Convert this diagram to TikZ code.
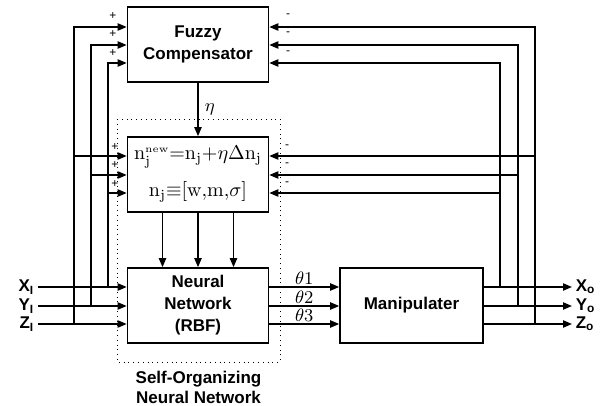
\documentclass[tikz,border=0pt]{standalone}
\usepackage{fontspec}
\setsansfont{Liberation Sans}
\usetikzlibrary{arrows.meta,positioning}

\begin{document}
\begin{tikzpicture}[
    x=0.5pt, y=-0.5pt,
    every node/.style={font=\sffamily\bfseries\fontsize{8.5}{11}\selectfont, align=center},
    blk/.style={rectangle, draw, line width=0.8pt, minimum width=70.5pt,
                minimum height=37.5pt, inner sep=0pt},
    ln/.style={line width=0.8pt},
    e/.style={ln, -{Triangle[length=4.5pt, width=3.6pt]}},
    sgn/.style={font=\sffamily\fontsize{6}{6}\selectfont, inner sep=0pt},
    io/.style={inner sep=1.5pt},
    th/.style={font=\fontsize{9.5}{9.5}\selectfont, inner sep=1pt},
    eq/.style={font=\fontsize{10}{18.5}\selectfont},
  ]
  \useasboundingbox (0,0) rectangle (611,406);
  % blocks
  \node[blk] (fuzzy) at (198,44.5) {Fuzzy\\Compensator};
  \node[blk, eq] (upd) at (198,174.5)
    {$\mathrm{n}_{\mathrm{j}}^{\scriptscriptstyle\mathrm{new}}{=}\mathrm{n}_{\mathrm{j}}{+}\eta\Delta\mathrm{n}_{\mathrm{j}}$\\
     $\mathrm{n}_{\mathrm{j}}{\equiv}[\mathrm{w{,}m{,}}\sigma]$};
  \node[blk] (nn) at (198,305.5) {Neural\\Network\\(RBF)};
  \node[blk, minimum width=71.5pt] (man) at (411.5,305.5) {Manipulater};
  \draw[dotted, thin] (117,119) rectangle (280,362);
  \node[font=\sffamily\bfseries\fontsize{8.5}{10}\selectfont] (son) at (198.5,387)
    {Self-Organizing\\Neural Network};
  % rows and columns
  \coordinate (xi) at (38,287);  \coordinate (yi) at (38,306);  \coordinate (zi) at (38,324);
  \coordinate (xo) at (572,287); \coordinate (yo) at (572,306); \coordinate (zo) at (572,324);
  \coordinate (lz) at (74,0);  \coordinate (ly) at (91,0);  \coordinate (lx) at (108,0);
  \coordinate (rx) at (500,0); \coordinate (ry) at (518,0); \coordinate (rz) at (535,0);
  \coordinate (f1) at (0,27);  \coordinate (f2) at (0,45);  \coordinate (f3) at (0,63);
  \coordinate (u1) at (0,156); \coordinate (u2) at (0,175); \coordinate (u3) at (0,193);
  % inputs and feedback to the left
  \foreach \i/\c/\f/\u/\l in {xi/lx/f3/u3/X, yi/ly/f2/u2/Y, zi/lz/f1/u1/Z} {
    \draw[e] (\i) node[io, left] {\l\textsubscript{I}} -- (\i -| nn.west);
    \draw[e] (\i -| \c) |- (fuzzy.west |- \f);
    \draw[e] (\c |- \u) -- (upd.west |- \u);
  }
  % outputs and feedback to the right
  \foreach \o/\c/\f/\u/\l in {xo/rx/f3/u3/X, yo/ry/f2/u2/Y, zo/rz/f1/u1/Z} {
    \draw[e] (man.east |- \o) -- (\o) node[io, right] {\l\textsubscript{o}};
    \draw[e] (\o -| \c) |- (fuzzy.east |- \f);
    \draw[e] (\c |- \u) -- (upd.east |- \u);
  }
  % joint angles
  \foreach \o/\n in {xo/1, yo/2, zo/3}
    \draw[e] (nn.east |- \o) -- node[th, above] {$\theta\n$} (man.west |- \o);
  % learning rate and parameters
  \draw[e] (fuzzy.south) -- node[th, right=2pt] {$\eta$} (upd.north);
  \foreach \dx in {-17.75, 0, 17.75}
    \draw[e] ([xshift=\dx pt]upd.south) -- ([xshift=\dx pt]nn.north);
  % signs
  \foreach \y [count=\k] in {16,34,53} {
    \node[sgn] (fp\k) at (113,\y) {+};
    \node[sgn] (fm\k) at (288,\y) {-};
  }
  \foreach \y [count=\k] in {147,165,184} {
    \node[sgn] (up\k) at (115,\y) {+};
    \node[sgn] (um\k) at (287,\y) {-};
  }
\end{tikzpicture}
\end{document}
